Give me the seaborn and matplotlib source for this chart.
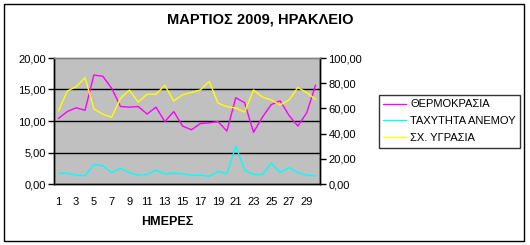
import matplotlib
matplotlib.use("Agg")
import matplotlib.pyplot as plt
import seaborn as sns
import pandas as pd
import numpy as np
from matplotlib.patches import Rectangle
from matplotlib.ticker import FuncFormatter, MultipleLocator, FixedLocator

days = list(range(1, 31))
temperature = [10.4, 11.5, 12.1, 11.7, 17.3, 17.1, 15.2, 12.3, 12.2, 12.3,
               11.1, 12.2, 9.9, 11.5, 9.2, 8.6, 9.6, 9.7, 9.9, 8.4,
               13.7, 12.9, 8.2, 10.6, 12.6, 13.2, 10.9, 9.2, 11.3, 15.7]
wind = [1.7, 1.7, 1.4, 1.3, 3.1, 2.9, 1.8, 2.5, 1.8, 1.4,
        1.5, 2.2, 1.6, 1.7, 1.6, 1.4, 1.4, 1.2, 2.0, 1.6,
        6.0, 2.2, 1.5, 1.5, 3.3, 1.8, 2.6, 1.8, 1.4, 1.3]
humidity = [58.0, 73.8, 77.2, 84.5, 59.6, 55.4, 53.0, 68.0, 74.5, 65.0,
            71.2, 71.2, 78.3, 65.9, 70.8, 72.6, 74.6, 81.4, 64.2, 61.4,
            60.3, 57.1, 74.6, 69.0, 66.7, 62.7, 66.7, 76.6, 72.5, 67.2]

title = "ΜΑΡΤΙΟΣ 2009, ΗΡΑΚΛΕΙΟ"
xlabel = "ΗΜΕΡΕΣ"
names = ["ΘΕΡΜΟΚΡΑΣΙΑ", "ΤΑΧΥΤΗΤΑ ΑΝΕΜΟΥ", "ΣΧ. ΥΓΡΑΣΙΑ"]
colors = ["#FF00FF", "#00FFFF", "#FFFF00"]

sns.set_style("white")
plt.rcParams['font.family'] = ['Liberation Sans', 'DejaVu Sans']
plt.rcParams['text.color'] = 'black'
plt.rcParams['xtick.color'] = 'black'
plt.rcParams['ytick.color'] = 'black'
plt.rcParams['xtick.labelcolor'] = 'black'
plt.rcParams['ytick.labelcolor'] = 'black'
plt.rcParams['legend.labelcolor'] = 'black'

df = pd.DataFrame({"day": days, "temp": temperature, "wind": wind, "hum": humidity})

W, H = 530, 245
fig = plt.figure(figsize=(W / 100, H / 100), dpi=100)
fig.patch.set_facecolor("white")
ax = fig.add_axes([54 / W, 1 - 184 / H, (320 - 54) / W, (184 - 58) / H])
ax2 = ax.twinx()

ax.set_facecolor("#C0C0C0")
sns.lineplot(data=df, x="day", y="temp", ax=ax, color=colors[0], lw=1, label=names[0], legend=False)
sns.lineplot(data=df, x="day", y="wind", ax=ax, color=colors[1], lw=1, label=names[1], legend=False)
sns.lineplot(data=df, x="day", y="hum", ax=ax2, color=colors[2], lw=1, label=names[2], legend=False)

ax.set_xlim(0.5, 30.5)
ax.set_ylim(0, 20)
ax2.set_ylim(0, 100)

for y in [5, 10, 15]:
    ax.axhline(y, color="black", lw=1, zorder=0.5)

fmt = FuncFormatter(lambda v, p: f"{v:.2f}".replace(".", ","))
ax.yaxis.set_major_locator(MultipleLocator(5))
ax.yaxis.set_major_formatter(fmt)
ax2.yaxis.set_major_locator(MultipleLocator(20))
ax2.yaxis.set_major_formatter(fmt)

odd = [d for d in days if d % 2 == 1]
ax.xaxis.set_major_locator(FixedLocator(odd))
ax.set_xticklabels([str(d) for d in odd])
ax.xaxis.set_minor_locator(FixedLocator(np.arange(0.5, 31, 1)))
ax.tick_params(axis="x", which="major", length=0, pad=9, labelsize=8)
ax.tick_params(axis="x", which="minor", length=4, width=1, color="black", direction="out")
ax.tick_params(axis="y", length=4, width=1, color="black", direction="out", labelsize=8, pad=2)
ax2.tick_params(axis="y", length=4, width=1, color="black", direction="out", labelsize=8, pad=2)

ax.set_xlabel("")
ax.set_ylabel("")
ax2.set_ylabel("")

for a in (ax, ax2):
    a.spines["top"].set_color("#808080")
    a.spines["top"].set_linewidth(1)
    for s in ("left", "right", "bottom"):
        a.spines[s].set_color("black")
        a.spines[s].set_linewidth(1)

fig.text(260 / W, 1 - 20 / H, title, ha="center", va="center", fontsize=10.5,
         fontweight="bold", color="black")
fig.text(167 / W, 1 - 222 / H, xlabel, ha="center", va="center", fontsize=9,
         fontweight="bold", color="black")

h1, l1 = ax.get_legend_handles_labels()
h2, l2 = ax2.get_legend_handles_labels()
leg = fig.legend(h1 + h2, l1 + l2, loc="upper left", bbox_to_anchor=(379 / W, 1 - 95 / H),
                 frameon=True, fancybox=False, shadow=False, fontsize=8,
                 handlelength=2.0, handletextpad=0.4, borderpad=0.4, labelspacing=0.62,
                 borderaxespad=0)
leg.get_frame().set_edgecolor("black")
leg.get_frame().set_linewidth(1)
for line in leg.get_lines():
    line.set_linewidth(1)

fig.patches.append(Rectangle((4 / W, 4 / H), 520 / W, 237 / H, transform=fig.transFigure,
                             fill=False, edgecolor="black", lw=1))

fig.savefig("out.png", dpi=100)
